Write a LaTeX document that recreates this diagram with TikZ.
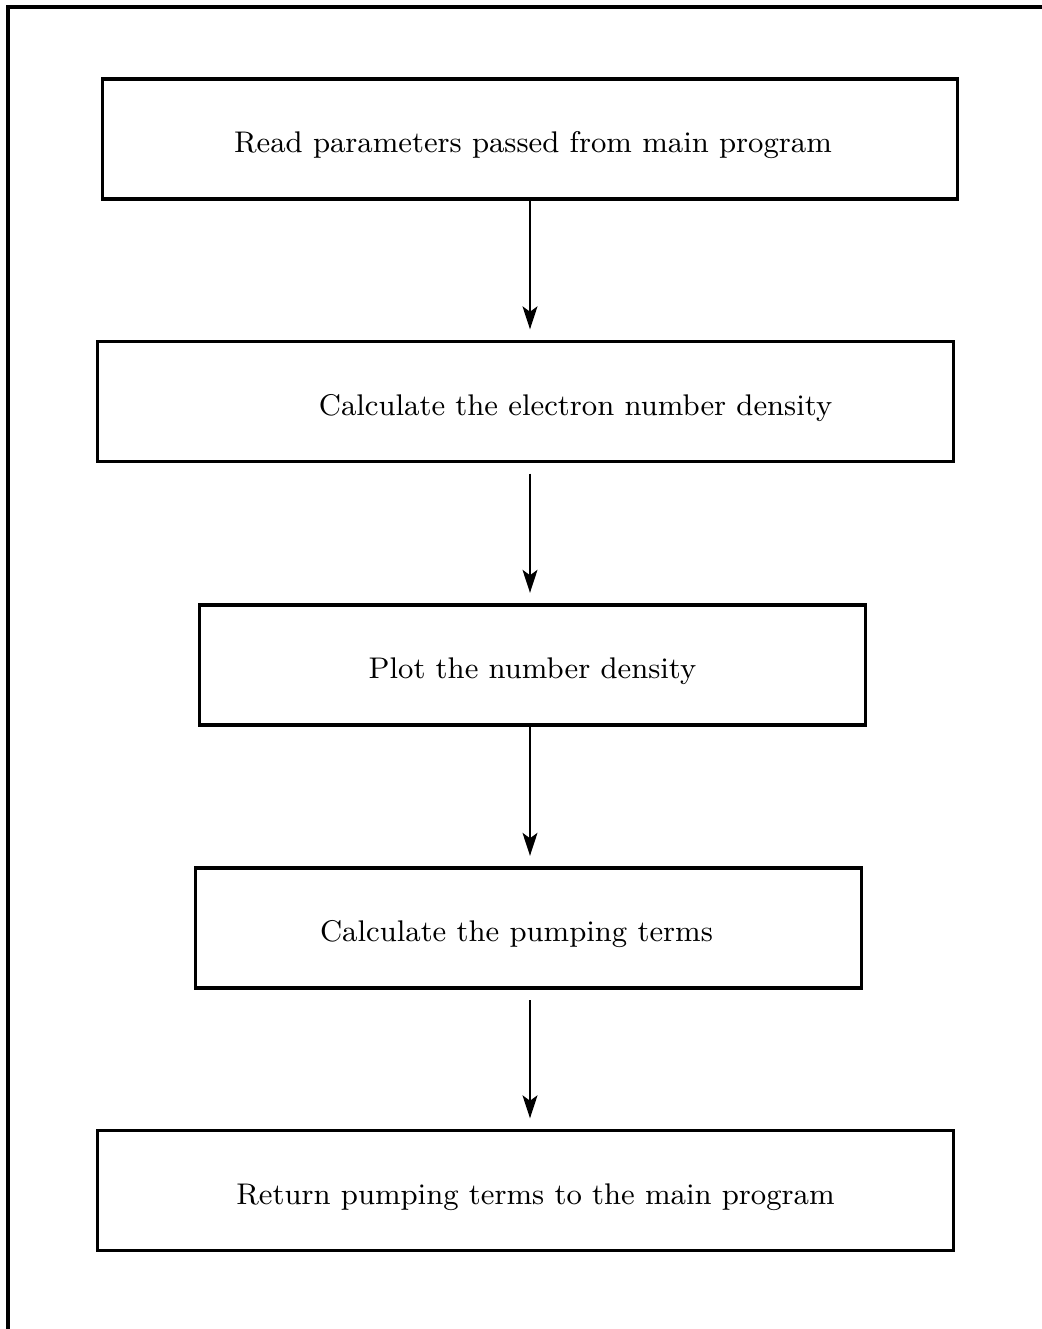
\documentclass[tikz,border=0pt]{standalone}
\usepackage{amsmath, amssymb}
\usepackage{tikz}
\usetikzlibrary{arrows.meta}

\begin{document}
\begin{tikzpicture}[x=0.01cm,y=-0.01cm,line width=0.8pt,->,>={Stealth[length=6.5pt,width=4.2pt,inset=1.5pt]},shorten >=3pt]
		\tikzstyle{task}=[draw,shape=rectangle,line width=0.9pt,minimum height=1.2cm,text height=9.8pt,text depth=2pt,font=\fontsize{8.5}{11}\selectfont]

		\useasboundingbox (0,0) rectangle (1042,1329);
		\draw[-,line width=1pt,shorten >=0pt] (1042,7) -- (8,7) -- (8,1329);

		\node[task,minimum width=8.54cm](read) at (530,139){\hspace*{0.06cm}Read parameters passed from main program};
		\node[task,minimum width=8.55cm](dens) at (525.5,401.5){\hspace*{1cm}Calculate the electron number density};
		\node[task,minimum width=6.65cm](plot) at (532.5,665){Plot the number density};
		\node[task,minimum width=6.65cm](pump) at (528.5,928){Calculate the pumping terms\hspace*{0.24cm}};
		\node[task,minimum width=8.55cm](ret) at (525.5,1190.5){\hspace*{0.2cm}Return pumping terms to the main program};

		\draw (read.south) -- (read.south |- dens.north);
		\draw[shorten <=3pt] (read.south |- dens.south) -- (read.south |- plot.north);
		\draw (read.south |- plot.south) -- (read.south |- pump.north);
		\draw[shorten <=3pt] (read.south |- pump.south) -- (read.south |- ret.north);
	\end{tikzpicture}
\end{document}
